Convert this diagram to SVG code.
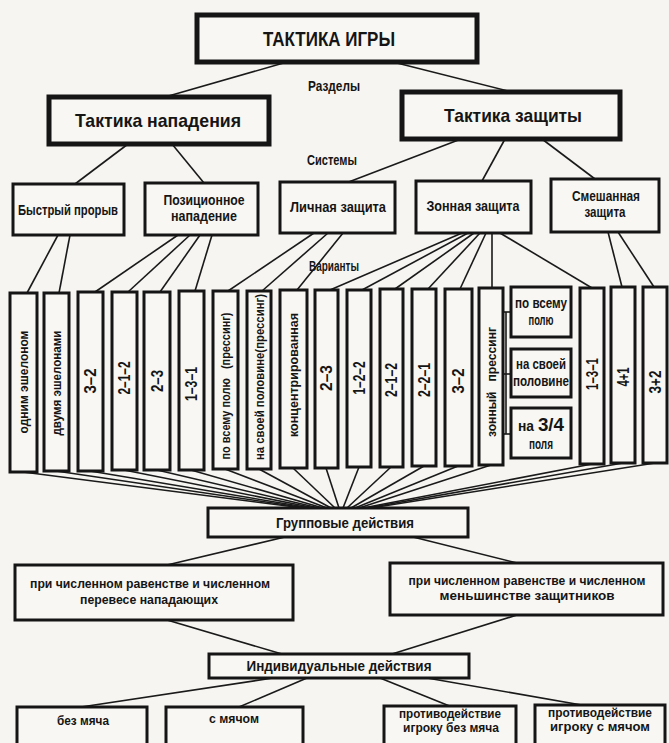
<svg xmlns="http://www.w3.org/2000/svg" width="669" height="743" viewBox="0 0 669 743">
<style>
.bg{fill:#f6f5f1}
.box{fill:#f8f7f3;stroke:#151515;stroke-width:3}
.tb{fill:#f8f7f3;stroke:#151515;stroke-width:5}
.ln{stroke:#1a1a1a;stroke-width:1.6;fill:none}
text{font-family:"Liberation Sans",Arial,sans-serif;font-weight:bold;fill:#151515;text-anchor:middle}
.t1{font-size:20px}
.t2{font-size:19px}
.t3{font-size:15px}
.t4{font-size:14px}
.tl{font-size:13px}
.num{font-size:17px}
</style>
<rect class="bg" x="0" y="0" width="669" height="743"/>

<g id="connectors">
<line class="ln" x1="287" y1="62" x2="165" y2="97"/>
<line class="ln" x1="393" y1="62" x2="512" y2="92"/>
<line class="ln" x1="128" y1="144" x2="75" y2="184"/>
<line class="ln" x1="172" y1="144" x2="204" y2="183"/>
<line class="ln" x1="461" y1="139" x2="346" y2="183"/>
<line class="ln" x1="505" y1="139" x2="482" y2="181"/>
<line class="ln" x1="542" y1="139" x2="595" y2="179"/>
<line class="ln" x1="58" y1="235" x2="27" y2="293"/>
<line class="ln" x1="70" y1="235" x2="59" y2="293"/>
<line class="ln" x1="178" y1="235" x2="95" y2="292"/>
<line class="ln" x1="190" y1="235" x2="128" y2="292"/>
<line class="ln" x1="200" y1="235" x2="160" y2="292"/>
<line class="ln" x1="212" y1="235" x2="195" y2="291"/>
<line class="ln" x1="314" y1="233" x2="228" y2="291"/>
<line class="ln" x1="328" y1="233" x2="262" y2="291"/>
<line class="ln" x1="343" y1="233" x2="297" y2="290"/>
<line class="ln" x1="462" y1="233" x2="330" y2="290"/>
<line class="ln" x1="468" y1="233" x2="362" y2="290"/>
<line class="ln" x1="474" y1="233" x2="395" y2="289"/>
<line class="ln" x1="480" y1="233" x2="428" y2="289"/>
<line class="ln" x1="486" y1="233" x2="460" y2="289"/>
<line class="ln" x1="492" y1="233" x2="492" y2="288"/>
<line class="ln" x1="500" y1="233" x2="592" y2="288"/>
<line class="ln" x1="608" y1="232" x2="622" y2="287"/>
<line class="ln" x1="618" y1="232" x2="654" y2="287"/>
<line class="ln" x1="503" y1="312" x2="511" y2="312"/>
<line class="ln" x1="503" y1="374" x2="511" y2="374"/>
<line class="ln" x1="503" y1="434" x2="511" y2="434"/>
<line class="ln" x1="506" y1="312" x2="506" y2="434"/>
<line class="ln" x1="23" y1="472" x2="303" y2="508"/>
<line class="ln" x1="56" y1="471" x2="307" y2="508"/>
<line class="ln" x1="90" y1="471" x2="311" y2="508"/>
<line class="ln" x1="124" y1="470" x2="315" y2="508"/>
<line class="ln" x1="157" y1="470" x2="319" y2="508"/>
<line class="ln" x1="191" y1="470" x2="323" y2="508"/>
<line class="ln" x1="225" y1="469" x2="327" y2="508"/>
<line class="ln" x1="259" y1="469" x2="331" y2="508"/>
<line class="ln" x1="293" y1="468" x2="335" y2="508"/>
<line class="ln" x1="326" y1="468" x2="339" y2="508"/>
<line class="ln" x1="359" y1="467" x2="343" y2="508"/>
<line class="ln" x1="391" y1="467" x2="347" y2="508"/>
<line class="ln" x1="424" y1="466" x2="351" y2="508"/>
<line class="ln" x1="458" y1="466" x2="355" y2="508"/>
<line class="ln" x1="491" y1="465" x2="359" y2="508"/>
<line class="ln" x1="592" y1="464" x2="363" y2="508"/>
<line class="ln" x1="623" y1="463" x2="367" y2="508"/>
<line class="ln" x1="655" y1="463" x2="371" y2="508"/>
<line class="ln" x1="285" y1="537" x2="167" y2="565"/>
<line class="ln" x1="413" y1="537" x2="517" y2="563"/>
<line class="ln" x1="167" y1="620" x2="282" y2="654"/>
<line class="ln" x1="517" y1="615" x2="392" y2="654"/>
<line class="ln" x1="273" y1="678" x2="81" y2="707"/>
<line class="ln" x1="307" y1="678" x2="239" y2="707"/>
<line class="ln" x1="380" y1="678" x2="452" y2="707"/>
<line class="ln" x1="427" y1="678" x2="593" y2="707"/>
</g>

<g id="title"><rect class="tb" x="197" y="15" width="280" height="47"/><text class="t1" x="329" y="46" textLength="132" lengthAdjust="spacingAndGlyphs">ТАКТИКА ИГРЫ</text></g>
<text class="t3" x="334" y="91" textLength="52" lengthAdjust="spacingAndGlyphs">Разделы</text>
<g id="attack"><rect class="tb" x="49" y="97" width="220" height="47"/><text class="t2" x="158" y="127" textLength="166" lengthAdjust="spacingAndGlyphs">Тактика нападения</text></g>
<g id="defense"><rect class="tb" x="402" y="92" width="218" height="47"/><text class="t2" x="513" y="122" textLength="138" lengthAdjust="spacingAndGlyphs">Тактика защиты</text></g>
<text class="t3" x="332" y="165" textLength="50" lengthAdjust="spacingAndGlyphs">Системы</text>

<g id="fastbreak"><rect class="box" x="13" y="184" width="111" height="51"/><text class="t4" x="68" y="215" textLength="100" lengthAdjust="spacingAndGlyphs">Быстрый прорыв</text></g>
<g id="positional"><rect class="box" x="145" y="183" width="113" height="52"/><text class="t4" x="204" y="205" textLength="81" lengthAdjust="spacingAndGlyphs">Позиционное</text><text class="t4" x="204" y="221" textLength="66" lengthAdjust="spacingAndGlyphs">нападение</text></g>
<g id="personal"><rect class="box" x="280" y="182" width="115" height="51"/><text class="t4" x="338" y="212" textLength="96" lengthAdjust="spacingAndGlyphs">Личная защита</text></g>
<g id="zonal"><rect class="box" x="416" y="181" width="115" height="52"/><text class="t4" x="473" y="211" textLength="93" lengthAdjust="spacingAndGlyphs">Зонная защита</text></g>
<g id="mixed"><rect class="box" x="551" y="179" width="108" height="53"/><text class="t4" x="606" y="201" textLength="68" lengthAdjust="spacingAndGlyphs">Смешанная</text><text class="t4" x="605" y="217" textLength="41" lengthAdjust="spacingAndGlyphs">защита</text></g>

<text class="t3" x="334" y="271" textLength="50" lengthAdjust="spacingAndGlyphs">Варианты</text>

<g id="v1"><rect class="box" x="10" y="293" width="27" height="179"/><text class="tl" transform="translate(23.5 382) rotate(-90)" dy=".35em" textLength="103" lengthAdjust="spacingAndGlyphs">одним эшелоном</text></g>
<g id="v2"><rect class="box" x="44" y="293" width="25" height="178"/><text class="tl" transform="translate(56.5 383) rotate(-90)" dy=".35em" textLength="105" lengthAdjust="spacingAndGlyphs">двумя эшелонами</text></g>
<g id="v3"><rect class="box" x="78" y="292" width="25" height="179"/><text class="num" transform="translate(90.5 381) rotate(-90)" dy=".35em" textLength="25" lengthAdjust="spacingAndGlyphs">3–2</text></g>
<g id="v4"><rect class="box" x="112" y="292" width="25" height="178"/><text class="num" transform="translate(124.5 378) rotate(-90)" dy=".35em" textLength="33" lengthAdjust="spacingAndGlyphs">2–1–2</text></g>
<g id="v5"><rect class="box" x="144" y="292" width="26" height="178"/><text class="num" transform="translate(157 381) rotate(-90)" dy=".35em" textLength="22" lengthAdjust="spacingAndGlyphs">2–3</text></g>
<g id="v6"><rect class="box" x="179" y="291" width="25" height="179"/><text class="num" transform="translate(191.5 384) rotate(-90)" dy=".35em" textLength="34" lengthAdjust="spacingAndGlyphs">1–3–1</text></g>
<g id="v7"><rect class="box" x="213" y="291" width="25" height="178"/><text class="tl" transform="translate(225.5 386) rotate(-90)" dy=".35em" textLength="147" lengthAdjust="spacingAndGlyphs" xml:space="preserve">по всему полю   (прессинг)</text></g>
<g id="v8"><rect class="box" x="247" y="291" width="24" height="178"/><text class="tl" transform="translate(259 377) rotate(-90)" dy=".35em" textLength="166" lengthAdjust="spacingAndGlyphs">на своей половине(прессинг)</text></g>
<g id="v9"><rect class="box" x="280" y="290" width="27" height="178"/><text class="tl" transform="translate(293.5 375) rotate(-90)" dy=".35em" textLength="124" lengthAdjust="spacingAndGlyphs">концентрированная</text></g>
<g id="v10"><rect class="box" x="315" y="290" width="23" height="178"/><text class="num" transform="translate(326.5 378) rotate(-90)" dy=".35em" textLength="26" lengthAdjust="spacingAndGlyphs">2–3</text></g>
<g id="v11"><rect class="box" x="347" y="290" width="24" height="177"/><text class="num" transform="translate(359 378) rotate(-90)" dy=".35em" textLength="33" lengthAdjust="spacingAndGlyphs">1–2–2</text></g>
<g id="v12"><rect class="box" x="380" y="289" width="23" height="178"/><text class="num" transform="translate(391.5 380) rotate(-90)" dy=".35em" textLength="34" lengthAdjust="spacingAndGlyphs">2–1–2</text></g>
<g id="v13"><rect class="box" x="412" y="289" width="24" height="177"/><text class="num" transform="translate(424 380) rotate(-90)" dy=".35em" textLength="34" lengthAdjust="spacingAndGlyphs">2–2–1</text></g>
<g id="v14"><rect class="box" x="445" y="289" width="27" height="177"/><text class="num" transform="translate(458.5 381) rotate(-90)" dy=".35em" textLength="25" lengthAdjust="spacingAndGlyphs">3–2</text></g>
<g id="v15"><rect class="box" x="479" y="288" width="24" height="177"/><text class="tl" transform="translate(491 382) rotate(-90)" dy=".35em" textLength="110" lengthAdjust="spacingAndGlyphs" xml:space="preserve">зонный   прессинг</text></g>
<g id="s1"><rect class="box" x="511" y="287" width="60" height="50"/><text class="t4" x="541" y="308" textLength="52" lengthAdjust="spacingAndGlyphs">по всему</text><text class="t4" x="541" y="325" textLength="25" lengthAdjust="spacingAndGlyphs">полю</text></g>
<g id="s2"><rect class="box" x="511" y="349" width="60" height="48"/><text class="t4" x="541" y="369" textLength="50" lengthAdjust="spacingAndGlyphs">на своей</text><text class="t4" x="541" y="386" textLength="56" lengthAdjust="spacingAndGlyphs">половине</text></g>
<g id="s3"><rect class="box" x="511" y="408" width="60" height="50"/><text class="t4" x="541" y="431" textLength="46" lengthAdjust="spacingAndGlyphs">на <tspan style="font-size:19px">3/4</tspan></text><text class="t4" x="541" y="449" textLength="24" lengthAdjust="spacingAndGlyphs">поля</text></g>
<g id="v16"><rect class="box" x="580" y="288" width="24" height="176"/><text class="num" transform="translate(592 374) rotate(-90)" dy=".35em" textLength="32" lengthAdjust="spacingAndGlyphs">1–3–1</text></g>
<g id="v17"><rect class="box" x="611" y="287" width="24" height="176"/><text class="num" transform="translate(623 377) rotate(-90)" dy=".35em" textLength="19" lengthAdjust="spacingAndGlyphs">4+1</text></g>
<g id="v18"><rect class="box" x="643" y="287" width="24" height="176"/><text class="num" transform="translate(655 382) rotate(-90)" dy=".35em" textLength="23" lengthAdjust="spacingAndGlyphs">3+2</text></g>

<g id="group"><rect class="box" x="208" y="508" width="260" height="29"/><text class="t3" x="345" y="528" textLength="138" lengthAdjust="spacingAndGlyphs">Групповые действия</text></g>
<g id="equal-attack"><rect class="box" x="15" y="565" width="278" height="55"/><text class="tl" x="150" y="588" textLength="240" lengthAdjust="spacingAndGlyphs">при численном равенстве и численном</text><text class="tl" x="149" y="604" textLength="138" lengthAdjust="spacingAndGlyphs">перевесе нападающих</text></g>
<g id="equal-defense"><rect class="box" x="390" y="563" width="273" height="52"/><text class="tl" x="527" y="585" textLength="237" lengthAdjust="spacingAndGlyphs">при численном равенстве и численном</text><text class="tl" x="527" y="600" textLength="175" lengthAdjust="spacingAndGlyphs">меньшинстве защитников</text></g>
<g id="individual"><rect class="box" x="209" y="654" width="260" height="24"/><text class="t3" x="339" y="671" textLength="185" lengthAdjust="spacingAndGlyphs">Индивидуальные действия</text></g>
<g id="b1"><rect class="box" x="17" y="707" width="130" height="42"/><text class="tl" x="83" y="725" textLength="52" lengthAdjust="spacingAndGlyphs">без мяча</text></g>
<g id="b2"><rect class="box" x="166" y="707" width="137" height="42"/><text class="tl" x="234" y="723" textLength="50" lengthAdjust="spacingAndGlyphs">с мячом</text></g>
<g id="b3"><rect class="box" x="384" y="706" width="132" height="43"/><text class="tl" x="450" y="718" textLength="102" lengthAdjust="spacingAndGlyphs">противодействие</text><text class="tl" x="451" y="732" textLength="96" lengthAdjust="spacingAndGlyphs">игроку без мяча</text></g>
<g id="b4"><rect class="box" x="535" y="705" width="130" height="44"/><text class="tl" x="600" y="717" textLength="104" lengthAdjust="spacingAndGlyphs">противодействие</text><text class="tl" x="600" y="731" textLength="100" lengthAdjust="spacingAndGlyphs">игроку с мячом</text></g>
</svg>
